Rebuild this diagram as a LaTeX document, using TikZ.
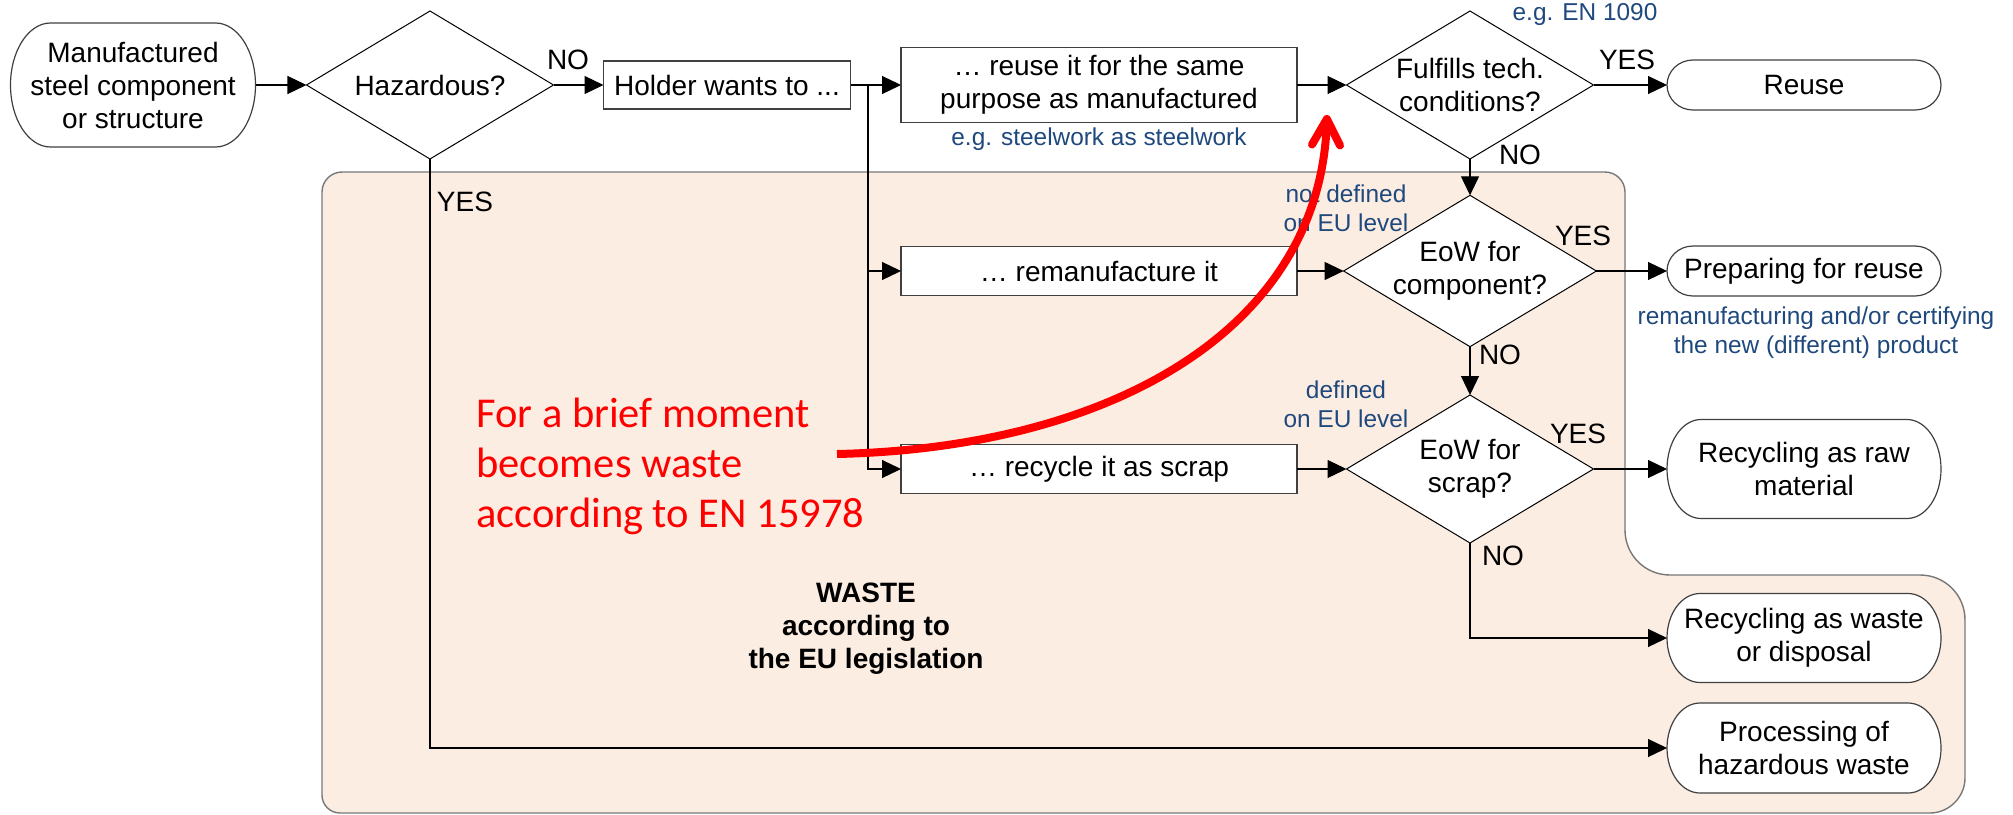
\documentclass[tikz,border=0pt]{standalone}
\usepackage{fontspec}
\setmainfont{Liberation Sans}
\newfontfamily\redfont{Carlito}
\usetikzlibrary{arrows.meta,shapes.geometric}

\definecolor{wastefill}{RGB}{252,237,226}
\definecolor{wasteline}{RGB}{120,120,120}
\definecolor{notecol}{RGB}{31,73,125}
\definecolor{boxline}{RGB}{64,64,64}

\pgfdeclarelayer{back}
\pgfdeclarelayer{mid}
\pgfsetlayers{back,mid,main}

\tikzset{
  txt/.style={font=\fontsize{14pt}{16.5pt}\selectfont, align=center, inner sep=0pt, outer sep=0pt},
  box/.style={txt, draw=boxline, line width=0.6pt, fill=white, rectangle},
  term/.style={txt, rectangle},
  decision/.style={txt, draw=black, line width=0.5pt, fill=white, diamond,
    shape aspect=1.67, minimum width=123.5pt, minimum height=74pt},
  flow/.style={line width=0.6pt, -{Triangle[length=9.5pt,width=9pt]}},
  answer/.style={font=\fontsize{14pt}{16.5pt}\selectfont, inner sep=0pt},
  note/.style={font=\fontsize{12.2pt}{14.5pt}\selectfont, text=notecol, align=center, inner sep=0pt},
  remark/.style={font=\redfont\fontsize{21.25pt}{25pt}\selectfont, text=red, align=left, inner sep=0pt},
}

% terminator outline with elliptical ends: node, x radius, y radius (half height)
\newcommand\termshape[3]{%
  \path[fill=white, draw=boxline, line width=0.6pt]
    ([xshift=#2]#1.north west) -- ([xshift=-#2]#1.north east)
    .. controls ([xshift=-0.448*#2]#1.north east) and ([yshift=0.552*#3]#1.east) .. (#1.east)
    .. controls ([yshift=-0.552*#3]#1.east) and ([xshift=-0.448*#2]#1.south east) .. ([xshift=-#2]#1.south east)
    -- ([xshift=#2]#1.south west)
    .. controls ([xshift=0.448*#2]#1.south west) and ([yshift=-0.552*#3]#1.west) .. (#1.west)
    .. controls ([yshift=0.552*#3]#1.west) and ([xshift=0.448*#2]#1.north west) .. ([xshift=#2]#1.north west)
    -- cycle;}

\begin{document}
\begin{tikzpicture}[x=0.5pt, y=-0.5pt]
\useasboundingbox (0,0) rectangle (2013,814);

% waste area
\begin{pgfonlayer}{back}
\path[fill=wastefill, draw=wasteline, line width=0.7pt]
  (322,795) -- (322,192)
  .. controls (322,181) and (331,172) .. (342,172)
  -- (1605,172)
  .. controls (1616,172) and (1625,181) .. (1625,192)
  -- (1625,530)
  .. controls (1625,555) and (1645,575) .. (1670,575)
  -- (1920,575)
  .. controls (1945,575) and (1965,595) .. (1965,620)
  -- (1965,778)
  .. controls (1965,797) and (1949,813) .. (1930,813)
  -- (340,813)
  .. controls (330,813) and (322,805) .. (322,795) -- cycle;
\end{pgfonlayer}

% nodes
\node[term, minimum width=122.5pt, minimum height=62pt] (start) at (133,85)
  {Manufactured\\steel component\\or structure};
\node[decision] (haz) at (430,85) {Hazardous?};
\node[box, minimum width=123.5pt, minimum height=24pt] (holder) at (727,85) {Holder wants to ...};
\node[box, minimum width=198pt, minimum height=37.5pt] (reuseit) at (1099,85)
  {… reuse it for the same\\purpose as manufactured};
\node[decision] (fulfil) at (1470,85) {Fulfills tech.\\conditions?};
\node[term, minimum width=137pt, minimum height=25pt] (reuse) at (1804,85) {Reuse};

\node[box, minimum width=198pt, minimum height=24.5pt] (reman) at (1099,271) {… remanufacture it};
\node[decision] (eowc) at (1470,271) {EoW for\\component?};
\node[term, minimum width=137pt, minimum height=25pt] (prep) at (1804,271) {Preparing for reuse};

\node[box, minimum width=198pt, minimum height=24.5pt] (recyc) at (1099,469) {… recycle it as scrap};
\node[decision] (eows) at (1470,469) {EoW for\\scrap?};
\node[term, minimum width=137pt, minimum height=49.5pt] (raw) at (1804,469)
  {Recycling as raw\\material};

\node[term, minimum width=137pt, minimum height=44.5pt] (wdisp) at (1804,638)
  {Recycling as waste\\or disposal};
\node[term, minimum width=137pt, minimum height=45pt] (hazw) at (1804,748)
  {Processing of\\hazardous waste};

% terminator outlines
\begin{pgfonlayer}{mid}
\termshape{start}{20pt}{31pt}
\termshape{reuse}{13pt}{12.5pt}
\termshape{prep}{13pt}{12.5pt}
\termshape{raw}{17pt}{24.75pt}
\termshape{wdisp}{16.5pt}{22.25pt}
\termshape{hazw}{16.5pt}{22.5pt}
\end{pgfonlayer}

\coordinate (split) at (868,85);

% connectors
\draw[flow] (start) -- (haz);
\draw[flow] (haz) -- (holder);
\draw[flow] (holder) -- (reuseit);
\draw[flow] (split) |- (reman.west);
\draw[flow] (split) |- (recyc.west);
\draw[flow] (reuseit) -- (fulfil);
\draw[flow] (fulfil) -- (reuse);
\draw[flow] (fulfil) -- (eowc);
\draw[flow] (reman) -- (eowc);
\draw[flow] (eowc) -- (prep);
\draw[flow] (eowc) -- (eows);
\draw[flow] (recyc) -- (eows);
\draw[flow] (eows) -- (raw);
\draw[flow] (eows.south) |- (wdisp.west);
\draw[flow] (haz.south) |- (hazw.west);

% answers
\node[answer] (noA) at (568,60) {NO};
\node[answer] (yesA) at (465,202) {YES};
\node[answer] (yesB) at (1627,60) {YES};
\node[answer] (noB) at (1520,155) {NO};
\node[answer] (yesC) at (1583,236) {YES};
\node[answer] (noC) at (1500,355) {NO};
\node[answer] (yesD) at (1578,434) {YES};
\node[answer] (noD) at (1503,556) {NO};

% notes
\node[note] (n1090) at (1585,15) {e.g. EN 1090};
\node[note] (nsteel) at (1099,139) {e.g. steelwork as steelwork};
\node[note] (nnotdef) at (1346,208) {not defined\\on EU level};
\node[note] (nremcert) at (1816,333) {remanufacturing and/or certifying\\the new (different) product};
\node[note] (ndef) at (1346,404) {defined\\on EU level};

\node[txt, font=\bfseries\fontsize{14pt}{16.5pt}\selectfont] (wastelbl) at (866,629)
  {WASTE\\according to\\the EU legislation};

% remark with arrow
\node[remark, anchor=north west] (brief) at (476,398)
  {For a brief moment\\becomes waste\\according to EN 15978};
\coordinate (redstart) at (837,454);
\coordinate (redtip) at (1327,115);
\draw[red, line width=4pt, -{Straight Barb[length=13pt,width=14pt,round]}]
  (redstart) .. controls (1110,448) and (1320,330) .. (redtip);
\end{tikzpicture}
\end{document}
